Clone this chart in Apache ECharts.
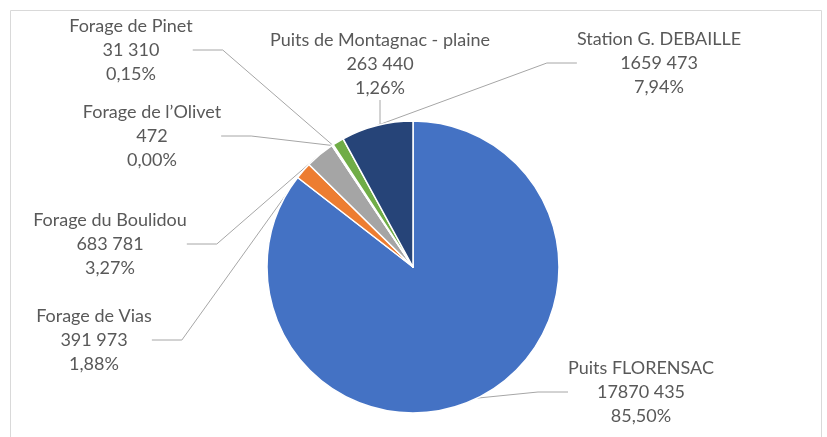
<!DOCTYPE html>
<html lang="fr">
<head>
<meta charset="UTF-8">
<title>Volumes par ressource</title>
<script src="https://cdn.jsdelivr.net/npm/echarts@6/dist/echarts.min.js"></script>
<style>
  html, body { margin: 0; padding: 0; background: #fff; }
  #chart { width: 827px; height: 437px; }
</style>
</head>
<body>
<div id="chart"></div>
<script>
  // ressources, dans l'ordre du tracé (sens horaire depuis midi)
  let names = ['Puits FLORENSAC', 'Forage de Vias', 'Forage du Boulidou', 'Forage de l\u2019Olivet',
    'Forage de Pinet', 'Puits de Montagnac - plaine', 'Station G. DEBAILLE'];
  let volumes = [17870435, 391973, 683781, 472, 31310, 263440, 1659473];
  let colors = ['#4472c4', '#ed7d31', '#a5a5a5', '#ffc000', '#5b9bd5', '#70ad47', '#264478'];

  // centre de chaque étiquette, en px
  let labelPos = [[641, 392], [94, 340], [110, 244], [152, 136], [131, 50], [380, 64], [659, 63]];

  // "17870435" -> "17870 435"
  function fmt(v) {
    let s = String(v);
    if (s.length <= 3) return s;
    return s.slice(0, -3) + ' ' + s.slice(-3);
  }

  let chart = echarts.init(document.getElementById('chart'));

  let option = {
    animation: false,
    graphic: [{
      type: 'rect',
      silent: true,
      shape: { x: 10.5, y: 10.5, width: 811, height: 440 },
      style: { fill: 'none', stroke: '#d9d9d9', lineWidth: 1 }
    }],
    series: [{
      type: 'pie',
      center: [413, 267],
      radius: 146,
      startAngle: 90,
      clockwise: true,
      minAngle: 0,
      avoidLabelOverlap: false,
      itemStyle: { borderColor: '#fff', borderWidth: 1.5 },
      label: {
        show: true,
        color: '#595959',
        fontFamily: 'Lato',
        fontSize: 18,
        lineHeight: 24,
        align: 'center',
        formatter: function (p) {
          return p.name + '\n' + fmt(p.value) + '\n' + p.percent.toFixed(2).replace('.', ',') + '%';
        }
      },
      labelLine: {
        show: true,
        lineStyle: { color: '#a6a6a6', width: 1 }
      },
      labelLayout: function (params) {
        let pos = labelPos[params.dataIndex];
        return {
          x: pos[0],
          y: pos[1],
          align: 'center',
          verticalAlign: 'middle'
        };
      },
      data: names.map(function (n, i) {
        return { name: n, value: volumes[i], itemStyle: { color: colors[i] } };
      })
    }]
  };

  chart.setOption(option);
</script>
</body>
</html>
